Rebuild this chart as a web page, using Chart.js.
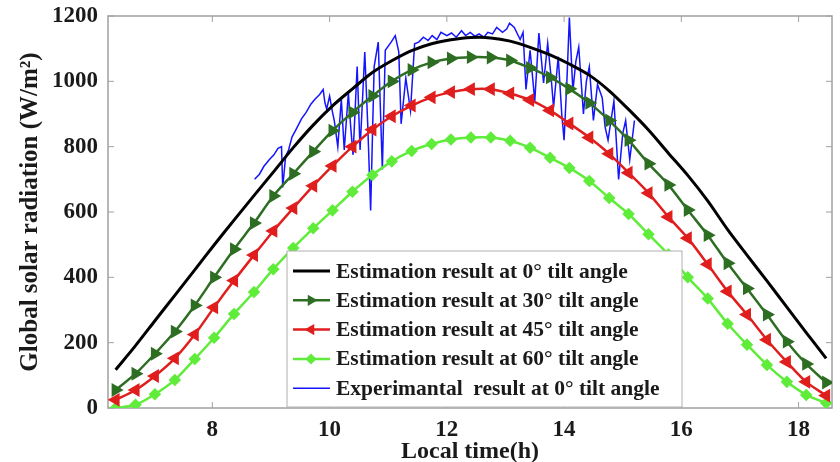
<!DOCTYPE html>
<html>
<head>
<meta charset="utf-8">
<script src="https://cdn.jsdelivr.net/npm/chart.js@4"></script>
<style>
  body { margin: 0; background: #fff; }
</style>
</head>
<body>
<canvas id="solarChart" width="840" height="462"></canvas>
<script>
// local time (h) of the estimation points
const times = [6.35, 6.69, 7.02, 7.36, 7.70, 8.03, 8.37, 8.71, 9.04, 9.38, 9.72, 10.05, 10.39, 10.73, 11.06, 11.40, 11.74, 12.07, 12.41, 12.75, 13.08, 13.42, 13.76, 14.09, 14.43, 14.77, 15.10, 15.44, 15.78, 16.11, 16.45, 16.79, 17.12, 17.46, 17.80, 18.13, 18.47];

const tilt0 = [117, 191, 267, 345, 423, 499, 575, 650, 722, 797, 866, 925, 977, 1027, 1063, 1094, 1115, 1127, 1134, 1133, 1123, 1104, 1081, 1053, 1019, 971, 914, 851, 780, 712, 634, 546, 468, 389, 309, 231, 152];
const tilt30 = [55, 105, 166, 234, 314, 400, 486, 566, 649, 717, 785, 849, 905, 955, 1000, 1035, 1058, 1070, 1074, 1073, 1064, 1041, 1012, 977, 934, 880, 820, 748, 683, 606, 529, 443, 366, 286, 203, 135, 78];
const tilt45 = [25, 55, 98, 152, 225, 308, 390, 468, 542, 612, 680, 741, 800, 852, 893, 926, 951, 967, 976, 976, 963, 943, 911, 871, 828, 778, 720, 658, 585, 520, 440, 357, 286, 209, 141, 80, 38];
const tilt60 = [0, 10, 42, 86, 150, 215, 288, 355, 425, 490, 550, 605, 662, 713, 755, 787, 808, 822, 828, 828, 818, 797, 766, 735, 695, 643, 594, 532, 470, 400, 335, 258, 194, 132, 80, 40, 15];

// measured radiation
const expTimes = [8.72, 8.8, 8.88, 8.97, 9.05, 9.12, 9.18, 9.2, 9.25, 9.3, 9.36, 9.42, 9.52, 9.6, 9.68, 9.75, 9.83, 9.89, 9.92, 9.95, 10.0, 10.05, 10.08, 10.14, 10.2, 10.25, 10.32, 10.36, 10.4, 10.47, 10.52, 10.6, 10.65, 10.7, 10.76, 10.83, 10.9, 10.95, 11.05, 11.12, 11.18, 11.22, 11.3, 11.38, 11.45, 11.52, 11.6, 11.68, 11.75, 11.83, 11.9, 12.0, 12.08, 12.16, 12.25, 12.32, 12.4, 12.48, 12.55, 12.63, 12.7, 12.78, 12.85, 12.95, 13.02, 13.07, 13.15, 13.25, 13.3, 13.35, 13.42, 13.5, 13.57, 13.65, 13.72, 13.78, 13.82, 13.9, 13.96, 14.0, 14.05, 14.09, 14.15, 14.2, 14.25, 14.33, 14.38, 14.43, 14.5, 14.57, 14.65, 14.7, 14.75, 14.85, 14.93, 15.0, 15.05, 15.12, 15.2];
const expValues = [700, 715, 740, 760, 775, 795, 800, 675, 770, 790, 830, 850, 885, 905, 930, 945, 960, 975, 935, 915, 955, 905, 880, 800, 945, 790, 965, 860, 775, 1045, 790, 1090, 870, 605, 1045, 1120, 730, 1095, 1120, 1140, 1090, 870, 1010, 910, 1115, 1120, 1135, 1125, 1140, 1128, 1150, 1140, 1148, 1135, 1155, 1140, 1150, 1138, 1145, 1135, 1150, 1145, 1165, 1150, 1160, 1178, 1165, 1128, 1150, 975, 1095, 940, 1148, 995, 1117, 1010, 920, 1075, 900, 820, 1010, 1195, 970, 1060, 1105, 900, 1000, 1045, 880, 990, 950, 860, 820, 940, 700, 840, 880, 760, 880];

const xTicks = [8, 10, 12, 14, 16, 18];
const yTicks = [0, 200, 400, 600, 800, 1000, 1200];

const seriesNames = [
    "Estimation result at 0\u00b0 tilt angle",
    "Estimation result at 30\u00b0 tilt angle",
    "Estimation result at 45\u00b0 tilt angle",
    "Estimation result at 60\u00b0 tilt angle",
    "Experimantal  result at 0\u00b0 tilt angle"
];

const serif = "'Liberation Serif', 'Times New Roman', serif";

function toPoints(xs, ys) {
    return xs.map((x, i) => ({ x: x, y: ys[i] }));
}

// small marker used in the legend box
function drawMarker(ctx, style, rotation, x, y, r, color) {
    ctx.save();
    ctx.translate(x, y);
    ctx.rotate(rotation * Math.PI / 180);
    ctx.fillStyle = color;
    ctx.beginPath();
    if (style === "triangle") {
        ctx.moveTo(0, -r);
        ctx.lineTo(r * 0.866, r * 0.5);
        ctx.lineTo(-r * 0.866, r * 0.5);
    } else {
        ctx.moveTo(0, -r);
        ctx.lineTo(r, 0);
        ctx.lineTo(0, r);
        ctx.lineTo(-r, 0);
    }
    ctx.closePath();
    ctx.fill();
    ctx.restore();
}

// frame with inward ticks (matlab style)
const framePlugin = {
    id: "frame",
    beforeDatasetsDraw(chart) {
        const { ctx, chartArea: a, scales } = chart;
        ctx.save();
        ctx.strokeStyle = "#a0a0a0";
        ctx.lineWidth = 1.5;
        ctx.strokeRect(a.left, a.top, a.right - a.left, a.bottom - a.top);
        ctx.lineWidth = 1;
        ctx.beginPath();
        xTicks.forEach(v => {
            const px = scales.x.getPixelForValue(v);
            ctx.moveTo(px, a.bottom);
            ctx.lineTo(px, a.bottom - 6);
            ctx.moveTo(px, a.top);
            ctx.lineTo(px, a.top + 6);
        });
        yTicks.forEach(v => {
            const py = scales.y.getPixelForValue(v);
            ctx.moveTo(a.left, py);
            ctx.lineTo(a.left + 6, py);
            ctx.moveTo(a.right, py);
            ctx.lineTo(a.right - 6, py);
        });
        ctx.stroke();
        ctx.restore();
    }
};

// legend box inside the plot
const legendPlugin = {
    id: "boxLegend",
    afterDatasetsDraw(chart) {
        const { ctx, chartArea: a } = chart;
        const left = a.left + 179;
        const top = a.top + 235;
        const right = a.left + 574;
        const bottom = a.bottom - 1;

        ctx.save();
        ctx.fillStyle = "#fff";
        ctx.fillRect(left, top, right - left, bottom - top);
        ctx.strokeStyle = "#b0b0b0";
        ctx.lineWidth = 1;
        ctx.strokeRect(left, top, right - left, bottom - top);

        chart.data.datasets.forEach((ds, i) => {
            const y = top + 20 + i * 29.3;
            ctx.strokeStyle = ds.borderColor;
            ctx.lineWidth = ds.borderWidth;
            ctx.beginPath();
            ctx.moveTo(left + 6, y);
            ctx.lineTo(left + 43, y);
            ctx.stroke();
            if (ds.pointRadius > 0) {
                drawMarker(ctx, ds.pointStyle, ds.rotation || 0, left + 24, y, ds.pointRadius + 1, ds.borderColor);
            }
            ctx.fillStyle = "#1a1a1a";
            ctx.font = "bold 21.5px " + serif;
            ctx.textBaseline = "middle";
            ctx.textAlign = "left";
            ctx.fillText(ds.label, left + 49, y + 1);
        });
        ctx.restore();
    }
};

// CHART
const ctx = document.getElementById("solarChart").getContext("2d");

new Chart(ctx, {
    type: "line",
    data: {
        datasets: [
            {
                label: seriesNames[0],
                data: toPoints(times, tilt0),
                borderColor: "#000000",
                borderWidth: 3,
                pointRadius: 0,
                tension: 0.3
            },
            {
                label: seriesNames[1],
                data: toPoints(times, tilt30),
                borderColor: "#2d6e23",
                backgroundColor: "#2d6e23",
                borderWidth: 2.5,
                pointStyle: "triangle",
                rotation: 90,
                pointRadius: 5.5,
                tension: 0.3
            },
            {
                label: seriesNames[2],
                data: toPoints(times, tilt45),
                borderColor: "#e01e1e",
                backgroundColor: "#e01e1e",
                borderWidth: 2.5,
                pointStyle: "triangle",
                rotation: -90,
                pointRadius: 5.5,
                tension: 0.3
            },
            {
                label: seriesNames[3],
                data: toPoints(times, tilt60),
                borderColor: "#5fec3a",
                backgroundColor: "#5fec3a",
                borderWidth: 2.5,
                pointStyle: "rectRot",
                pointRadius: 4.5,
                tension: 0.3
            },
            {
                label: seriesNames[4],
                data: toPoints(expTimes, expValues),
                borderColor: "#1414ff",
                borderWidth: 1.5,
                pointRadius: 0,
                tension: 0
            }
        ]
    },
    options: {
        responsive: false,
        animation: false,
        layout: { padding: { top: 16, right: 1, left: 0, bottom: 0 } },
        plugins: {
            legend: { display: false },
            tooltip: { enabled: false }
        },
        scales: {
            x: {
                type: "linear",
                min: 6.22,
                max: 18.57,
                afterBuildTicks: scale => { scale.ticks = xTicks.map(v => ({ value: v })); },
                afterFit: scale => { scale.height = 54; },
                grid: { display: false },
                border: { display: false },
                ticks: {
                    color: "#1a1a1a",
                    padding: 0,
                    maxRotation: 0,
                    callback: v => String(v),
                    font: { family: serif, size: 23, weight: "bold" }
                },
                title: {
                    display: true,
                    text: "Local time(h)",
                    color: "#1a1a1a",
                    padding: { top: 0, bottom: 0 },
                    font: { family: serif, size: 24, weight: "bold", lineHeight: 0.85 }
                }
            },
            y: {
                min: 0,
                max: 1200,
                afterBuildTicks: scale => { scale.ticks = yTicks.map(v => ({ value: v })); },
                afterFit: scale => { scale.width = 108; },
                grid: { display: false },
                border: { display: false },
                ticks: {
                    color: "#1a1a1a",
                    padding: 2,
                    callback: v => String(v),
                    font: { family: serif, size: 23, weight: "bold" }
                },
                title: {
                    display: true,
                    text: "Global solar radiation (W/m\u00b2)",
                    color: "#1a1a1a",
                    padding: { top: 16, bottom: 0 },
                    font: { family: serif, size: 25, weight: "bold" }
                }
            }
        }
    },
    plugins: [framePlugin, legendPlugin]
});
</script>
</body>
</html>
